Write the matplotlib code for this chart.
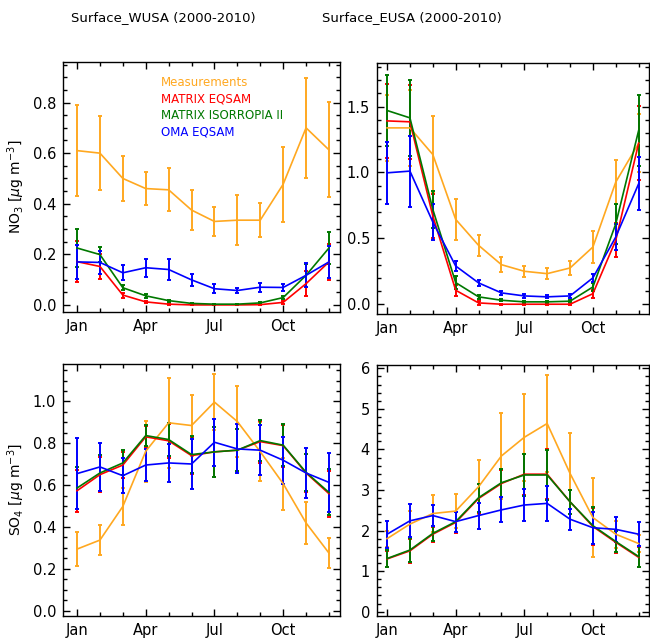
import matplotlib
matplotlib.use("Agg")
import matplotlib.pyplot as plt
from matplotlib.ticker import MultipleLocator, FixedLocator

plt.rcParams['font.family'] = ['DejaVu Sans']

months = list(range(1, 13))
month_ticks = [1, 4, 7, 10]
month_labels = ['Jan', 'Apr', 'Jul', 'Oct']

# NO3, WUSA
no3_w_meas = [0.61, 0.60, 0.50, 0.46, 0.455, 0.375, 0.33, 0.335, 0.335, 0.477, 0.70, 0.613]
no3_w_meas_err = [0.18, 0.145, 0.09, 0.066, 0.085, 0.08, 0.059, 0.098, 0.067, 0.149, 0.198, 0.188]
no3_w_eqsam = [0.171, 0.152, 0.039, 0.012, 0.003, 0.0, 0.0, 0.0, 0.001, 0.01, 0.084, 0.17]
no3_w_eqsam_err = [0.08, 0.05, 0.01, 0.005, 0.003, 0.001, 0.001, 0.001, 0.002, 0.006, 0.05, 0.07]
no3_w_isor = [0.225, 0.199, 0.068, 0.036, 0.017, 0.006, 0.003, 0.003, 0.008, 0.029, 0.117, 0.225]
no3_w_isor_err = [0.075, 0.03, 0.01, 0.007, 0.004, 0.002, 0.002, 0.002, 0.003, 0.007, 0.045, 0.065]
no3_w_oma = [0.17, 0.168, 0.127, 0.147, 0.14, 0.099, 0.064, 0.057, 0.07, 0.069, 0.117, 0.17]
no3_w_oma_err = [0.067, 0.045, 0.03, 0.036, 0.04, 0.023, 0.018, 0.01, 0.017, 0.015, 0.048, 0.063]

# NO3, EUSA
no3_e_meas = [1.338, 1.338, 1.136, 0.644, 0.447, 0.30, 0.25, 0.232, 0.275, 0.434, 0.927, 1.22]
no3_e_meas_err = [0.25, 0.29, 0.29, 0.155, 0.08, 0.058, 0.04, 0.043, 0.05, 0.12, 0.165, 0.22]
no3_e_eqsam = [1.391, 1.384, 0.67, 0.106, 0.01, 0.0, 0.0, 0.0, 0.0, 0.08, 0.485, 1.222]
no3_e_eqsam_err = [0.28, 0.28, 0.17, 0.04, 0.015, 0.005, 0.005, 0.005, 0.005, 0.03, 0.13, 0.28]
no3_e_isor = [1.47, 1.414, 0.72, 0.164, 0.056, 0.03, 0.018, 0.018, 0.023, 0.131, 0.61, 1.318]
no3_e_isor_err = [0.27, 0.29, 0.14, 0.05, 0.015, 0.008, 0.006, 0.006, 0.008, 0.03, 0.15, 0.27]
no3_e_oma = [0.997, 1.01, 0.624, 0.29, 0.162, 0.086, 0.063, 0.056, 0.063, 0.20, 0.51, 0.914]
no3_e_oma_err = [0.235, 0.27, 0.14, 0.04, 0.02, 0.015, 0.012, 0.012, 0.012, 0.03, 0.1, 0.2]

# SO4, WUSA
so4_w_meas = [0.294, 0.337, 0.498, 0.762, 0.898, 0.885, 0.997, 0.904, 0.76, 0.607, 0.419, 0.275]
so4_w_meas_err = [0.08, 0.07, 0.088, 0.145, 0.215, 0.146, 0.134, 0.168, 0.14, 0.125, 0.1, 0.073]
so4_w_eqsam = [0.573, 0.65, 0.696, 0.831, 0.812, 0.741, 0.759, 0.767, 0.808, 0.789, 0.658, 0.559]
so4_w_eqsam_err = [0.1, 0.085, 0.06, 0.05, 0.08, 0.09, 0.12, 0.1, 0.1, 0.1, 0.09, 0.11]
so4_w_isor = [0.586, 0.658, 0.706, 0.837, 0.818, 0.746, 0.759, 0.767, 0.813, 0.791, 0.661, 0.565]
so4_w_isor_err = [0.1, 0.085, 0.06, 0.05, 0.08, 0.09, 0.12, 0.1, 0.1, 0.1, 0.09, 0.11]
so4_w_oma = [0.655, 0.687, 0.645, 0.696, 0.706, 0.701, 0.805, 0.773, 0.767, 0.719, 0.658, 0.613]
so4_w_oma_err = [0.17, 0.115, 0.085, 0.078, 0.09, 0.12, 0.112, 0.117, 0.12, 0.113, 0.12, 0.14]

# SO4, EUSA
so4_e_meas = [1.8, 2.16, 2.42, 2.48, 3.08, 3.84, 4.3, 4.64, 3.41, 2.32, 1.91, 1.68]
so4_e_meas_err = [0.2, 0.33, 0.45, 0.42, 0.66, 1.05, 1.08, 1.2, 1.0, 0.98, 0.33, 0.2]
so4_e_eqsam = [1.3, 1.5, 1.91, 2.2, 2.79, 3.16, 3.39, 3.39, 2.71, 2.1, 1.71, 1.34]
so4_e_eqsam_err = [0.2, 0.29, 0.19, 0.25, 0.35, 0.34, 0.51, 0.61, 0.29, 0.46, 0.27, 0.25]
so4_e_isor = [1.31, 1.52, 1.93, 2.22, 2.81, 3.18, 3.37, 3.37, 2.71, 2.12, 1.73, 1.36]
so4_e_isor_err = [0.2, 0.29, 0.19, 0.25, 0.35, 0.34, 0.51, 0.61, 0.29, 0.46, 0.27, 0.25]
so4_e_oma = [1.91, 2.24, 2.37, 2.22, 2.37, 2.51, 2.63, 2.67, 2.28, 2.07, 2.03, 1.91]
so4_e_oma_err = [0.33, 0.41, 0.26, 0.25, 0.32, 0.31, 0.39, 0.44, 0.26, 0.4, 0.31, 0.3]

series_names = ['Measurements', 'MATRIX EQSAM', 'MATRIX ISORROPIA II', 'OMA EQSAM']
colors = ['#FFA820', '#FF0000', '#007800', '#0000FF']

fig = plt.figure(figsize=(6.5, 6.4), dpi=100)

# [left, bottom, width, height] in figure fractions
boxes = {
    'nw': [0.097, 0.5125, 0.426, 0.3905],
    'ne': [0.580, 0.509, 0.418, 0.3925],
    'sw': [0.097, 0.0375, 0.426, 0.394],
    'se': [0.580, 0.0375, 0.418, 0.392],
}

panels = [
    ('nw', [(no3_w_meas, no3_w_meas_err), (no3_w_eqsam, no3_w_eqsam_err),
            (no3_w_isor, no3_w_isor_err), (no3_w_oma, no3_w_oma_err)],
     (0.39, 12.48), (-0.028, 0.96), 0.2, 0.05, '%.1f'),
    ('ne', [(no3_e_meas, no3_e_meas_err), (no3_e_eqsam, no3_e_eqsam_err),
            (no3_e_isor, no3_e_isor_err), (no3_e_oma, no3_e_oma_err)],
     (0.56, 12.44), (-0.076, 1.83), 0.5, 0.1, '%.1f'),
    ('sw', [(so4_w_meas, so4_w_meas_err), (so4_w_eqsam, so4_w_eqsam_err),
            (so4_w_isor, so4_w_isor_err), (so4_w_oma, so4_w_oma_err)],
     (0.39, 12.48), (-0.026, 1.18), 0.2, 0.05, '%.1f'),
    ('se', [(so4_e_meas, so4_e_meas_err), (so4_e_eqsam, so4_e_eqsam_err),
            (so4_e_isor, so4_e_isor_err), (so4_e_oma, so4_e_oma_err)],
     (0.56, 12.44), (-0.107, 6.08), 1.0, 0.2, '%d'),
]

axes = {}
for key, data, xlim, ylim, major, minor, fmt in panels:
    ax = fig.add_axes(boxes[key])
    axes[key] = ax
    for (vals, errs), c in zip(data, colors):
        ax.errorbar(months, vals, yerr=errs, color=c, lw=1.2, elinewidth=1.4,
                    capsize=1.5, capthick=1.4, ecolor=c)
    ax.set_xlim(*xlim)
    ax.set_ylim(*ylim)
    ax.xaxis.set_major_locator(FixedLocator(month_ticks))
    ax.xaxis.set_minor_locator(FixedLocator(months))
    ax.set_xticklabels(month_labels)
    ax.yaxis.set_major_locator(MultipleLocator(major))
    ax.yaxis.set_minor_locator(MultipleLocator(minor))
    ax.yaxis.set_major_formatter(plt.FormatStrFormatter(fmt))
    ax.tick_params(which='both', direction='in', top=True, right=True,
                   labelsize=10.5)
    ax.tick_params(axis='x', pad=5)
    ax.tick_params(axis='y', pad=5)
    ax.tick_params(which='major', length=5, width=1)
    ax.tick_params(which='minor', length=3, width=1)
    for s in ax.spines.values():
        s.set_linewidth(1.0)

axes['nw'].set_ylabel(r'NO$_3$ [$\mu$g m$^{-3}$]', fontsize=10, labelpad=4)
axes['sw'].set_ylabel(r'SO$_4$ [$\mu$g m$^{-3}$]', fontsize=10, labelpad=4)

# legend as coloured text
for i, (name, c) in enumerate(zip(series_names, colors)):
    axes['nw'].text(0.355, 0.92 - i * 0.066, name, color=c, fontsize=8.5,
                    transform=axes['nw'].transAxes, va='center', ha='left')

fig.text(0.252, 0.972, 'Surface_WUSA (2000-2010)', ha='center', va='center', fontsize=9.5)
fig.text(0.634, 0.972, 'Surface_EUSA (2000-2010)', ha='center', va='center', fontsize=9.5)

fig.savefig('out.png', dpi=100)
